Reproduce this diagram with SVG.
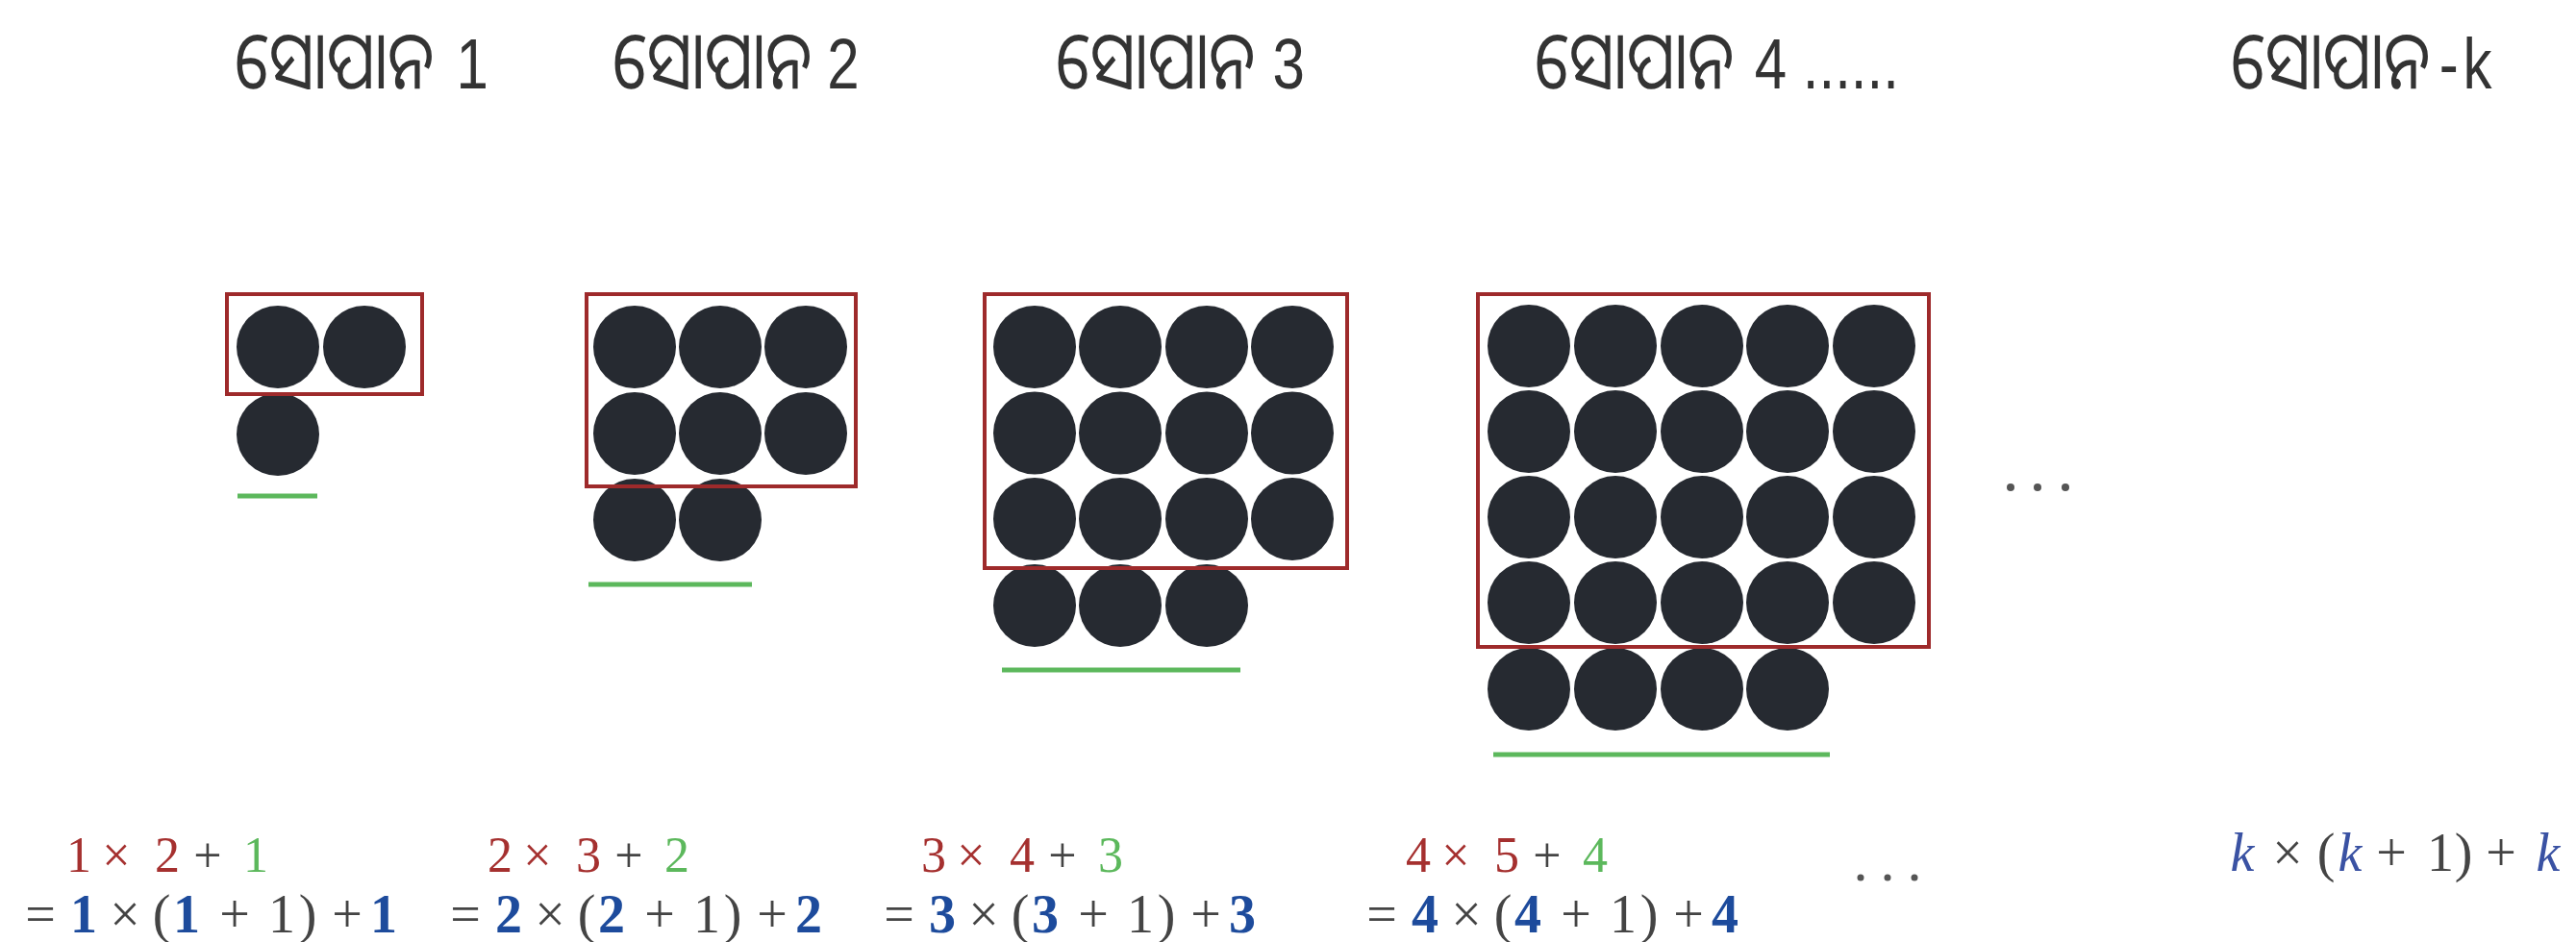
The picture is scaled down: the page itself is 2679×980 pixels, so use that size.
<svg xmlns="http://www.w3.org/2000/svg" width="2679" height="980" viewBox="0 0 2679 980">
<style>
.lbl{font-family:"Noto Sans Oriya","Noto Sans",sans-serif;font-size:84px;fill:#333}
.num{font-family:"Liberation Sans",sans-serif;font-size:75px}
.dot{fill:#262a31}
.box{fill:none;stroke:#9e2a2b;stroke-width:4}
.bar{stroke:#5cb85c;stroke-width:5}
.f{font-family:"Liberation Serif",serif;text-anchor:middle;fill:#444}
.f1{font-size:52px}
.f2{font-size:56px}
.fk{font-size:56px}
.r{fill:#a5302f}
.g{fill:#5cb85c}
.b{fill:#1d4b9c;font-weight:bold}
.k{fill:#3a52a3;font-style:italic}
.ell{fill:#555}
</style>
<rect width="2679" height="980" fill="#ffffff"/>
<g id="labels">
<text id="label1" class="lbl" transform="translate(244 92) scale(0.8 1)">ସୋପାନ <tspan class="num" x="288">1</tspan></text>
<text id="label2" class="lbl" transform="translate(637 92) scale(0.8 1)">ସୋପାନ <tspan class="num" x="279">2</tspan></text>
<text id="label3" class="lbl" transform="translate(1098 92) scale(0.8 1)">ସୋପାନ <tspan class="num" x="282">3</tspan></text>
<text id="label4" class="lbl" transform="translate(1596 92) scale(0.8 1)">ସୋପାନ <tspan class="num" x="286">4 ......</tspan></text>
<text id="label-k" class="lbl" transform="translate(2320 92) scale(0.8 1)">ସୋପାନ<tspan class="num" x="271" font-size="88">-</tspan><tspan class="num" dx="6">k</tspan></text>
</g>
<g id="connectors"></g>
<g id="step1">
<circle class="dot" cx="289" cy="361" r="43"/>
<circle class="dot" cx="379" cy="361" r="43"/>
<circle class="dot" cx="289" cy="452" r="43"/>
<rect class="box" x="236" y="306" width="203" height="104"/>
<line class="bar" x1="247" y1="516" x2="330" y2="516"/>
</g>
<g id="step2">
<circle class="dot" cx="660" cy="361" r="43"/>
<circle class="dot" cx="749" cy="361" r="43"/>
<circle class="dot" cx="838" cy="361" r="43"/>
<circle class="dot" cx="660" cy="451" r="43"/>
<circle class="dot" cx="749" cy="451" r="43"/>
<circle class="dot" cx="838" cy="451" r="43"/>
<circle class="dot" cx="660" cy="541" r="43"/>
<circle class="dot" cx="749" cy="541" r="43"/>
<rect class="box" x="610" y="306" width="280" height="200"/>
<line class="bar" x1="612" y1="608" x2="782" y2="608"/>
</g>
<g id="step3">
<circle class="dot" cx="1076" cy="361" r="43"/>
<circle class="dot" cx="1165" cy="361" r="43"/>
<circle class="dot" cx="1255" cy="361" r="43"/>
<circle class="dot" cx="1344" cy="361" r="43"/>
<circle class="dot" cx="1076" cy="450.5" r="43"/>
<circle class="dot" cx="1165" cy="450.5" r="43"/>
<circle class="dot" cx="1255" cy="450.5" r="43"/>
<circle class="dot" cx="1344" cy="450.5" r="43"/>
<circle class="dot" cx="1076" cy="540" r="43"/>
<circle class="dot" cx="1165" cy="540" r="43"/>
<circle class="dot" cx="1255" cy="540" r="43"/>
<circle class="dot" cx="1344" cy="540" r="43"/>
<circle class="dot" cx="1076" cy="630" r="43"/>
<circle class="dot" cx="1165" cy="630" r="43"/>
<circle class="dot" cx="1255" cy="630" r="43"/>
<rect class="box" x="1024" y="306" width="377" height="285"/>
<line class="bar" x1="1042" y1="697" x2="1290" y2="697"/>
</g>
<g id="step4">
<circle class="dot" cx="1590" cy="360" r="43"/>
<circle class="dot" cx="1680" cy="360" r="43"/>
<circle class="dot" cx="1770" cy="360" r="43"/>
<circle class="dot" cx="1859" cy="360" r="43"/>
<circle class="dot" cx="1949" cy="360" r="43"/>
<circle class="dot" cx="1590" cy="449" r="43"/>
<circle class="dot" cx="1680" cy="449" r="43"/>
<circle class="dot" cx="1770" cy="449" r="43"/>
<circle class="dot" cx="1859" cy="449" r="43"/>
<circle class="dot" cx="1949" cy="449" r="43"/>
<circle class="dot" cx="1590" cy="538" r="43"/>
<circle class="dot" cx="1680" cy="538" r="43"/>
<circle class="dot" cx="1770" cy="538" r="43"/>
<circle class="dot" cx="1859" cy="538" r="43"/>
<circle class="dot" cx="1949" cy="538" r="43"/>
<circle class="dot" cx="1590" cy="627" r="43"/>
<circle class="dot" cx="1680" cy="627" r="43"/>
<circle class="dot" cx="1770" cy="627" r="43"/>
<circle class="dot" cx="1859" cy="627" r="43"/>
<circle class="dot" cx="1949" cy="627" r="43"/>
<circle class="dot" cx="1590" cy="717" r="43"/>
<circle class="dot" cx="1680" cy="717" r="43"/>
<circle class="dot" cx="1770" cy="717" r="43"/>
<circle class="dot" cx="1859" cy="717" r="43"/>
<rect class="box" x="1537" y="306" width="469" height="367"/>
<line class="bar" x1="1553" y1="785" x2="1903" y2="785"/>
</g>
<g id="ellipsis-mid">
<circle class="ell" cx="2091" cy="507" r="4"/>
<circle class="ell" cx="2119" cy="507" r="4"/>
<circle class="ell" cx="2148" cy="507" r="4"/>
</g>
<g id="formula1">
<text class="f f1" x="82" y="907"><tspan class="r" x="82">1</tspan><tspan class="r" x="121">×</tspan><tspan class="r" x="174">2</tspan><tspan x="216">+</tspan><tspan class="g" x="266">1</tspan></text>
<text class="f f2" x="42" y="970"><tspan x="42">=</tspan><tspan class="b" x="87">1</tspan><tspan x="130">×</tspan><tspan x="168">(</tspan><tspan class="b" x="194">1</tspan><tspan x="244">+</tspan><tspan x="293">1</tspan><tspan x="320">)</tspan><tspan x="361">+</tspan><tspan class="b" x="399">1</tspan></text>
</g>
<g id="formula2">
<text class="f f1" x="520" y="907"><tspan class="r" x="520">2</tspan><tspan class="r" x="559">×</tspan><tspan class="r" x="612">3</tspan><tspan x="654">+</tspan><tspan class="g" x="704">2</tspan></text>
<text class="f f2" x="484" y="970"><tspan x="484">=</tspan><tspan class="b" x="529">2</tspan><tspan x="572">×</tspan><tspan x="610">(</tspan><tspan class="b" x="636">2</tspan><tspan x="686">+</tspan><tspan x="735">1</tspan><tspan x="762">)</tspan><tspan x="803">+</tspan><tspan class="b" x="841">2</tspan></text>
</g>
<g id="formula3">
<text class="f f1" x="971" y="907"><tspan class="r" x="971">3</tspan><tspan class="r" x="1010">×</tspan><tspan class="r" x="1063">4</tspan><tspan x="1105">+</tspan><tspan class="g" x="1155">3</tspan></text>
<text class="f f2" x="935" y="970"><tspan x="935">=</tspan><tspan class="b" x="980">3</tspan><tspan x="1023">×</tspan><tspan x="1061">(</tspan><tspan class="b" x="1087">3</tspan><tspan x="1137">+</tspan><tspan x="1186">1</tspan><tspan x="1213">)</tspan><tspan x="1254">+</tspan><tspan class="b" x="1292">3</tspan></text>
</g>
<g id="formula4">
<text class="f f1" x="1475" y="907"><tspan class="r" x="1475">4</tspan><tspan class="r" x="1514">×</tspan><tspan class="r" x="1567">5</tspan><tspan x="1609">+</tspan><tspan class="g" x="1659">4</tspan></text>
<text class="f f2" x="1437" y="970"><tspan x="1437">=</tspan><tspan class="b" x="1482">4</tspan><tspan x="1525">×</tspan><tspan x="1563">(</tspan><tspan class="b" x="1589">4</tspan><tspan x="1639">+</tspan><tspan x="1688">1</tspan><tspan x="1715">)</tspan><tspan x="1756">+</tspan><tspan class="b" x="1794">4</tspan></text>
</g>
<g id="ellipsis-bottom">
<circle class="ell" cx="1935" cy="913" r="3.5"/>
<circle class="ell" cx="1963" cy="913" r="3.5"/>
<circle class="ell" cx="1991" cy="913" r="3.5"/>
</g>
<g id="formula-k">
<text class="f fk" x="2332" y="906"><tspan class="k" x="2332">k</tspan><tspan x="2379">×</tspan><tspan x="2419">(</tspan><tspan class="k" x="2444">k</tspan><tspan x="2487">+</tspan><tspan x="2538">1</tspan><tspan x="2562">)</tspan><tspan x="2601">+</tspan><tspan class="k" x="2650">k</tspan></text>
</g>
</svg>
